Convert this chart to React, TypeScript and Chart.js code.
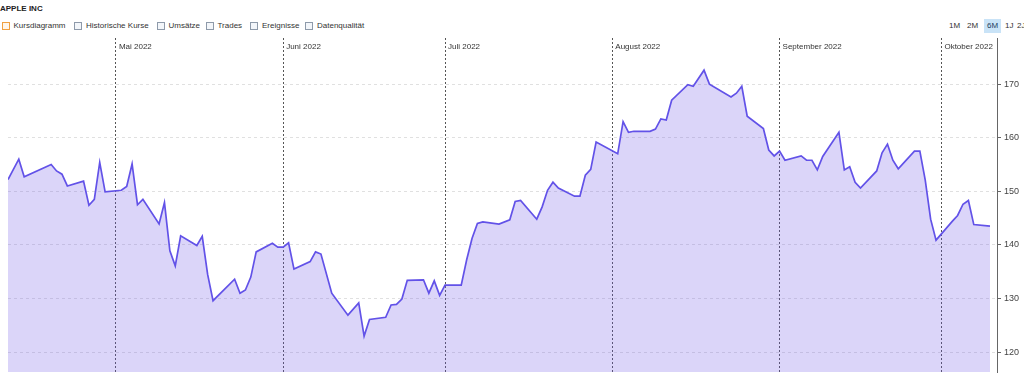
import React, { useEffect, useRef } from "react";
import { Chart, registerables } from "chart.js";

Chart.register(...registerables);

const dates: string[] = [
  "2022-04-11", "2022-04-13", "2022-04-14", "2022-04-19", "2022-04-20", "2022-04-21", "2022-04-22",
  "2022-04-25", "2022-04-26", "2022-04-27", "2022-04-28", "2022-04-29",
  "2022-05-02", "2022-05-03", "2022-05-04", "2022-05-05", "2022-05-06",
  "2022-05-09", "2022-05-10", "2022-05-11", "2022-05-12", "2022-05-13",
  "2022-05-16", "2022-05-17", "2022-05-18", "2022-05-19",
  "2022-05-23", "2022-05-24", "2022-05-25", "2022-05-26", "2022-05-27",
  "2022-05-30", "2022-05-31", "2022-06-01", "2022-06-02", "2022-06-03",
  "2022-06-06", "2022-06-07", "2022-06-08", "2022-06-10",
  "2022-06-13", "2022-06-15", "2022-06-16", "2022-06-17",
  "2022-06-20", "2022-06-21", "2022-06-22", "2022-06-23", "2022-06-24",
  "2022-06-27", "2022-06-28", "2022-06-29", "2022-06-30", "2022-07-01",
  "2022-07-04", "2022-07-05", "2022-07-06", "2022-07-07", "2022-07-08",
  "2022-07-11", "2022-07-13", "2022-07-14", "2022-07-15",
  "2022-07-18", "2022-07-19", "2022-07-20", "2022-07-21", "2022-07-22",
  "2022-07-25", "2022-07-26", "2022-07-27", "2022-07-28", "2022-07-29",
  "2022-08-02", "2022-08-03", "2022-08-04", "2022-08-05",
  "2022-08-08", "2022-08-09", "2022-08-10", "2022-08-11", "2022-08-12",
  "2022-08-15", "2022-08-16", "2022-08-18", "2022-08-19",
  "2022-08-23", "2022-08-24", "2022-08-25", "2022-08-26",
  "2022-08-29", "2022-08-30", "2022-08-31", "2022-09-01", "2022-09-02",
  "2022-09-05", "2022-09-06", "2022-09-07", "2022-09-08", "2022-09-09",
  "2022-09-12", "2022-09-13", "2022-09-14", "2022-09-15", "2022-09-16",
  "2022-09-19", "2022-09-20", "2022-09-21", "2022-09-22", "2022-09-23",
  "2022-09-26", "2022-09-27", "2022-09-28", "2022-09-29", "2022-09-30",
  "2022-10-03", "2022-10-04", "2022-10-05", "2022-10-06", "2022-10-07",
  "2022-10-10",
];

const prices: number[] = [
  152.2, 156.0, 152.7, 155.0, 153.8, 153.2, 151.0,
  151.9, 147.4, 148.5, 155.4, 149.9,
  150.2, 150.9, 155.1, 147.5, 148.5,
  143.9, 147.9, 138.9, 136.1, 141.7,
  139.9, 141.6, 134.5, 129.6,
  133.6, 131.0, 131.6, 134.0, 138.7,
  140.3, 139.6, 139.6, 140.4, 135.5,
  136.9, 138.7, 138.3, 131.0,
  126.9, 129.2, 123.0, 126.1,
  126.5, 128.8, 128.9, 129.9, 133.4,
  133.5, 131.0, 133.3, 130.6, 132.5,
  132.5, 137.2, 141.2, 144.0, 144.3,
  143.9, 144.7, 148.1, 148.3,
  144.8, 147.1, 150.2, 151.7, 150.6,
  149.1, 149.1, 153.0, 154.1, 159.2,
  157.0, 163.0, 161.0, 161.2,
  161.2, 161.6, 163.5, 163.3, 167.0,
  169.9, 169.6, 172.6, 170.0,
  167.6, 168.3, 169.6, 164.0,
  161.7, 157.7, 156.6, 157.5, 155.8,
  156.6, 155.8, 155.8, 154.0, 156.5,
  161.0, 154.0, 154.6, 151.7, 150.6,
  153.8, 157.2, 158.8, 155.8, 154.2,
  157.5, 157.5, 152.1, 144.8, 140.9,
  144.4, 145.5, 147.6, 148.3, 143.8,
  143.5,
];

const monthDates: string[] = ["2022-05-01", "2022-06-01", "2022-07-01", "2022-08-01", "2022-09-01", "2022-10-01"];
const monthLabels: string[] = ["Mai 2022", "Juni 2022", "Juli 2022", "August 2022", "September 2022", "Oktober 2022"];

const yTicks: number[] = [120, 130, 140, 150, 160, 170];

const legendItems: string[] = ["Kursdiagramm", "Historische Kurse", "Umsätze", "Trades", "Ereignisse", "Datenqualität"];
const rangeButtons: string[] = ["1M", "2M", "6M", "1J", "2J"];

const FONT = "'Liberation Sans', Arial, sans-serif";

const dayNum = (s: string) => {
  const [y, m, d] = s.split("-").map(Number);
  return (Date.UTC(y, m - 1, d) - Date.UTC(2022, 4, 1)) / 86400000;
};

export default function App() {
  const ref = useRef<HTMLCanvasElement | null>(null);

  useEffect(() => {
    if (!ref.current) return;
    const points = dates.map((d, i) => ({ x: dayNum(d), y: prices[i] }));
    const monthX = monthDates.map(dayNum);

    const monthLabelPlugin = {
      id: "monthLabels",
      afterDatasetsDraw(chart: any) {
        const { ctx, chartArea, scales } = chart;
        ctx.save();
        ctx.font = `8px ${FONT}`;
        ctx.fillStyle = "#333";
        ctx.textBaseline = "middle";
        ctx.textAlign = "left";
        monthX.forEach((v, i) => {
          const px = scales.x.getPixelForValue(v);
          ctx.fillText(monthLabels[i], px + 3, chartArea.top + 8.5);
        });
        ctx.restore();
      },
    };

    const chart = new Chart(ref.current, {
      type: "line",
      data: {
        datasets: [
          {
            data: points,
            borderColor: "rgb(98, 82, 232)",
            backgroundColor: "rgba(112, 88, 232, 0.25)",
            borderWidth: 1.7,
            pointRadius: 0,
            tension: 0,
            fill: "start",
          },
        ],
      },
      options: {
        animation: false,
        responsive: false,
        maintainAspectRatio: false,
        layout: { padding: { left: 8, top: 38, right: 0, bottom: 0 } },
        plugins: { legend: { display: false }, tooltip: { enabled: false } },
        scales: {
          x: {
            type: "linear",
            min: dayNum("2022-04-11"),
            max: dayNum("2022-10-10") + 1.3,
            afterBuildTicks: (scale: any) => {
              scale.ticks = monthX.map((v) => ({ value: v }));
            },
            afterFit: (scale: any) => {
              scale.height = 2;
              scale.paddingLeft = 0;
              scale.paddingRight = 0;
            },
            ticks: { display: false },
            grid: { color: "#555", drawTicks: false, lineWidth: 1 },
            border: { display: false, dash: [2, 2] },
          },
          y: {
            position: "right",
            min: 116.3,
            max: 178.6,
            afterBuildTicks: (scale: any) => {
              scale.ticks = yTicks.map((v) => ({ value: v }));
            },
            afterFit: (scale: any) => {
              scale.width = 27;
              scale.paddingTop = 0;
              scale.paddingBottom = 0;
            },
            ticks: {
              padding: 3,
              color: "#444",
              font: { family: FONT, size: 9 },
            },
            grid: { color: "#e0e0e0", tickColor: "#666", tickLength: 4, lineWidth: 1 },
            border: { display: true, color: "#666", width: 1, dash: [3, 3] },
          },
        },
      },
      plugins: [monthLabelPlugin],
    } as any);

    return () => chart.destroy();
  }, []);

  const legendX = [1.5, 74, 156.5, 205.5, 250, 305];

  return (
    <div
      style={{
        position: "absolute",
        left: 0,
        top: 0,
        width: 1024,
        height: 374,
        overflow: "hidden",
        background: "#fff",
        fontFamily: FONT,
        color: "#333",
      }}
    >
      <div style={{ position: "absolute", left: 0, top: 4, fontSize: 8, fontWeight: "bold", lineHeight: "10px", color: "#222" }}>
        APPLE INC
      </div>
      {legendItems.map((t, i) => (
        <div key={t} style={{ position: "absolute", left: legendX[i], top: 21, height: 10, display: "flex", alignItems: "center", fontSize: 8, lineHeight: "10px" }}>
          <span
            style={{
              display: "inline-block",
              width: 6,
              height: 6,
              border: i === 0 ? "1px solid #f0a040" : "1px solid #8e9aaa",
              background: i === 0 ? "#fff6ea" : "#f3f6fa",
              marginRight: 4,
            }}
          />
          <span>{t}</span>
        </div>
      ))}
      {rangeButtons.map((t, i) => {
        const lefts = [949, 967, 984, 1005, 1017];
        const active = t === "6M";
        return (
          <div
            key={t}
            style={{
              position: "absolute",
              left: lefts[i],
              top: 19,
              height: 14,
              width: active ? 17 : undefined,
              lineHeight: "14px",
              fontSize: 8,
              textAlign: "center",
              background: active ? "#c9e3f7" : "transparent",
              color: active ? "#1d3d5c" : "#333",
            }}
          >
            {t}
          </div>
        );
      })}
      <canvas ref={ref} width={1024} height={374} style={{ position: "absolute", left: 0, top: 0, width: 1024, height: 374 }} />
    </div>
  );
}
